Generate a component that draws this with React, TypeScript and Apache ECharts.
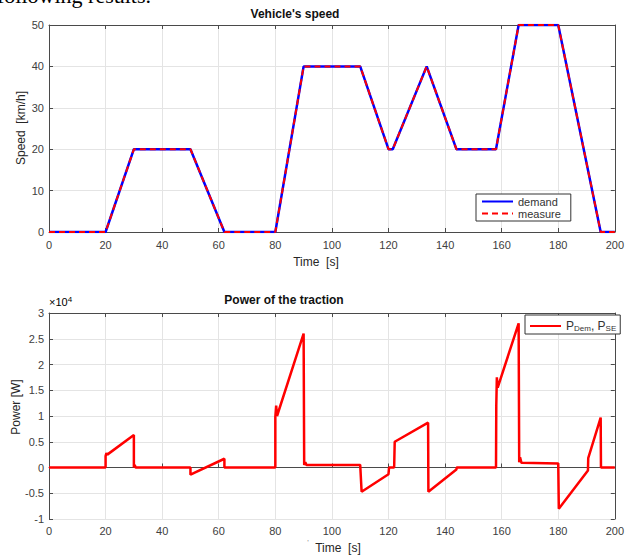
import React, { useEffect, useRef } from 'react';
import * as echarts from 'echarts';

// ---- Data ----
const speedTime = [0, 20, 30, 50, 62, 80, 90, 110, 120, 121.5, 133.5, 144, 158, 166, 180, 195, 200];
const demandSpeed = [0, 0, 20, 20, 0, 0, 40, 40, 20, 20, 40, 20, 20, 50, 50, 0, 0];
const measureSpeed = [0, 0, 20, 20, 0, 0, 40, 40, 20, 20, 40, 20, 20, 50, 50, 0, 0];

const powerTime = [
  0, 20, 20, 20.3, 20.6, 30, 30, 30.3, 30.6, 50, 50, 62, 62, 80, 80, 80.3, 80.6, 90, 90.2, 90.6, 91,
  110, 110.5, 120, 120.2, 122, 122.2, 134, 134.1, 144, 144.1, 158, 158.1, 158.3, 158.6, 166, 166.2,
  166.5, 167, 180, 180.2, 190.5, 190.6, 195, 195.1, 200,
];
const powerValues = [
  0, 0, 2200, 2800, 2500, 6300, 0, 500, 0, 0, -1400, 1700, 0, 0, 9800, 12000, 10000, 26000, 500, 1000, 500,
  500, -4700, -1300, 0, 0, 5000, 8700, -4700, -400, 0, 0, 12000, 17500, 15500, 28000, 1000,
  2000, 900, 800, -8000, -600, 1800, 9700, 0, 0,
];

const speedTitle = "Vehicle's speed";
const powerTitle = 'Power of the traction';
const timeLabel = 'Time  [s]';
const speedLabel = 'Speed  [km/h]';
const powerLabel = 'Power [W]';

const FONT = 'Liberation Sans, Arial, Helvetica, sans-serif';
const AX = '#4a4a4a';
const LBL = '#404040';
const GRID = '#e4e4e4';

function xAxes(gridIndex: number, labelMargin: number) {
  return [
    {
      type: 'value', gridIndex, min: 0, max: 200, interval: 20,
      axisLine: { show: true, lineStyle: { color: AX, width: 1 } },
      axisTick: { show: true, inside: true, length: 4, lineStyle: { color: AX } },
      axisLabel: { color: LBL, fontSize: 11, fontFamily: FONT, margin: labelMargin },
      splitLine: { show: true, lineStyle: { color: GRID, width: 1 } },
    },
    {
      type: 'value', gridIndex, min: 0, max: 200, interval: 20, position: 'top',
      axisLine: { show: true, onZero: false, lineStyle: { color: AX, width: 1 } },
      axisTick: { show: true, inside: true, length: 4, lineStyle: { color: AX } },
      axisLabel: { show: false },
      splitLine: { show: false },
    },
  ];
}

function yAxes(gridIndex: number, min: number, max: number, interval: number, fmt: (v: number) => string) {
  return [
    {
      type: 'value', gridIndex, min, max, interval,
      axisLine: { show: true, onZero: false, lineStyle: { color: AX, width: 1 } },
      axisTick: { show: true, inside: true, length: 4, lineStyle: { color: AX } },
      axisLabel: { color: LBL, fontSize: 11, fontFamily: FONT, margin: 5, formatter: fmt },
      splitLine: { show: true, lineStyle: { color: GRID, width: 1 } },
    },
    {
      type: 'value', gridIndex, min, max, interval, position: 'right',
      axisLine: { show: true, onZero: false, lineStyle: { color: AX, width: 1 } },
      axisTick: { show: true, inside: true, length: 4, lineStyle: { color: AX } },
      axisLabel: { show: false },
      splitLine: { show: false },
    },
  ];
}

export default function App() {
  const ref = useRef<HTMLDivElement>(null);

  useEffect(() => {
    if (!ref.current) return;
    const chart = echarts.init(ref.current, null, { renderer: 'svg' });

    const demandData = speedTime.map((t, i) => [t, demandSpeed[i]]);
    const measureData = speedTime.map((t, i) => [t, measureSpeed[i]]);
    const powerData = powerTime.map((t, i) => [t, powerValues[i]]);

    const option: any = {
      animation: false,
      backgroundColor: '#ffffff',
      grid: [
        { left: 49, top: 25, width: 570, height: 207 },
        { left: 49, top: 313, width: 570, height: 206 },
      ],
      xAxis: [...xAxes(0, 7), ...xAxes(1, 6)],
      yAxis: [
        ...yAxes(0, 0, 50, 10, (v: number) => String(v)),
        ...yAxes(1, -10000, 30000, 5000, (v: number) => String(Math.round(v / 1000) / 10)),
      ],
      legend: [
        {
          data: ['demand', 'measure'],
          orient: 'vertical',
          left: 476,
          top: 194,
          itemWidth: 31,
          itemHeight: 12,
          itemGap: 1,
          padding: [2, 10, 2, 5],
          borderColor: '#333',
          borderWidth: 1,
          borderRadius: 0,
          backgroundColor: '#fff',
          itemStyle: { opacity: 0 },
          textStyle: { color: '#333', fontSize: 11, fontFamily: FONT },
        },
        {
          data: ['P_Dem, P_SE'],
          orient: 'vertical',
          left: 525,
          top: 315,
          itemWidth: 31,
          itemHeight: 14,
          padding: [2, 4, 2, 4],
          borderColor: '#333',
          borderWidth: 1,
          borderRadius: 0,
          backgroundColor: '#fff',
          itemStyle: { opacity: 0 },
          formatter: () => '{m|P}{s|Dem}{m|, P}{s|SE}',
          textStyle: {
            color: '#333',
            fontFamily: FONT,
            rich: {
              m: { fontSize: 12, fontFamily: FONT, color: '#333', lineHeight: 12, verticalAlign: 'top' },
              s: { fontSize: 8, fontFamily: FONT, color: '#333', lineHeight: 9, padding: [7, 0, 0, 0], verticalAlign: 'bottom' },
            },
          },
        },
      ],
      series: [
        {
          name: 'demand', type: 'line', xAxisIndex: 0, yAxisIndex: 0, data: demandData,
          symbol: 'none', color: '#0000ff', lineStyle: { color: '#0000ff', width: 2.5 },
        },
        {
          name: 'measure', type: 'line', xAxisIndex: 0, yAxisIndex: 0, data: measureData,
          symbol: 'none', color: '#ff0000', lineStyle: { color: '#ff0000', width: 2, type: [6, 4] },
        },
        {
          name: 'P_Dem, P_SE', type: 'line', xAxisIndex: 2, yAxisIndex: 2, data: powerData,
          symbol: 'none', color: '#ff0000', lineStyle: { color: '#ff0000', width: 2.5 },
        },
      ],
      graphic: [
        {
          type: 'text', left: -3, top: -16, silent: true,
          style: { text: 'following results.', font: '22px "Liberation Serif", "Times New Roman", serif', fill: '#000' },
        },
        {
          type: 'text', x: 295, y: 14, silent: true,
          style: { text: speedTitle, fontSize: 12, fontWeight: 'bold', fontFamily: FONT, fill: '#111', align: 'center', verticalAlign: 'middle' },
        },
        {
          type: 'text', x: 284, y: 300, silent: true,
          style: { text: powerTitle, fontSize: 12, fontWeight: 'bold', fontFamily: FONT, fill: '#111', align: 'center', verticalAlign: 'middle' },
        },
        {
          type: 'text', x: 316, y: 262, silent: true,
          style: { text: timeLabel, fontSize: 12, fontFamily: FONT, fill: '#262626', align: 'center', verticalAlign: 'middle' },
        },
        {
          type: 'text', x: 338, y: 548, silent: true,
          style: { text: timeLabel, fontSize: 12, fontFamily: FONT, fill: '#262626', align: 'center', verticalAlign: 'middle' },
        },
        {
          type: 'text', x: 308, y: 542, silent: true,
          style: { text: "'", fontSize: 8, fontFamily: FONT, fill: '#888', align: 'center', verticalAlign: 'middle' },
        },
        {
          type: 'text', x: 21, y: 128, rotation: Math.PI / 2, silent: true,
          style: { text: speedLabel, fontSize: 12, fontFamily: FONT, fill: '#262626', align: 'center', verticalAlign: 'middle' },
        },
        {
          type: 'text', x: 16, y: 407, rotation: Math.PI / 2, silent: true,
          style: { text: powerLabel, fontSize: 12, fontFamily: FONT, fill: '#262626', align: 'center', verticalAlign: 'middle' },
        },
        {
          type: 'text', x: 49, y: 301, silent: true,
          style: {
            text: '{a|×10}{b|4}',
            fontFamily: FONT,
            verticalAlign: 'middle',
            rich: {
              a: { fontSize: 11, fontFamily: FONT, color: LBL, lineHeight: 12, padding: [5, 0, 0, 0], verticalAlign: 'bottom' },
              b: { fontSize: 8, fontFamily: FONT, color: LBL, lineHeight: 9, verticalAlign: 'top' },
            },
          },
        },
      ],
    };

    chart.setOption(option);
    return () => chart.dispose();
  }, []);

  return (
    <div
      ref={ref}
      style={{ position: 'fixed', left: 0, top: 0, width: 627, height: 556, background: '#fff' }}
    />
  );
}
